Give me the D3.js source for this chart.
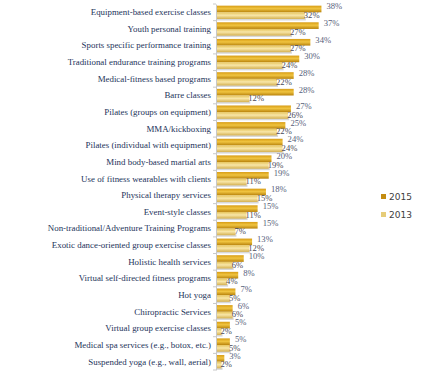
<!DOCTYPE html>
<html><head><meta charset="utf-8">
<script src="https://cdn.jsdelivr.net/npm/d3@7"></script>
<style>body{margin:0;background:#fff}svg{display:block}</style>
</head><body>
<svg id="c" width="422" height="374"></svg>
<script>
const categories = ["Equipment-based exercise classes","Youth personal training","Sports specific performance training","Traditional endurance training programs","Medical-fitness based programs","Barre classes","Pilates (groups on equipment)","MMA/kickboxing","Pilates (individual with equipment)","Mind body-based martial arts","Use of fitness wearables with clients","Physical therapy services","Event-style classes","Non-traditional/Adventure Training Programs","Exotic dance-oriented group exercise classes","Holistic health services","Virtual self-directed fitness programs","Hot yoga","Chiropractic Services","Virtual group exercise classes","Medical spa services (e.g., botox, etc.)","Suspended yoga (e.g., wall, aerial)"];
const values2015 = [38,37,34,30,28,28,27,25,24,20,19,18,15,15,13,10,8,7,6,5,5,3];
const values2013 = [32,27,27,24,22,12,26,22,24,19,11,15,11,7,12,6,4,5,6,2,5,2];
const seriesNames = ["2015","2013"];

const svg = d3.select("#c");
const x = d3.scaleLinear().domain([0,40]).range([216,327]);
const y = d3.scaleBand().domain(categories).range([4,370]).paddingInner(0.2).paddingOuter(0.1);
const bh = y.bandwidth()/2;

const defs = svg.append("defs");
function grad(id, stops){
  const g = defs.append("linearGradient").attr("id",id).attr("x1",0).attr("y1",0).attr("x2",0).attr("y2",1);
  stops.forEach(s=>g.append("stop").attr("offset",s[0]).attr("stop-color",s[1]));
}
grad("g15",[[0,"#d79c14"],[0.45,"#f0c440"],[1,"#b8820c"]]);
grad("g13",[[0,"#e6c45a"],[0.45,"#f8e6a8"],[1,"#d4b050"]]);

const rows = categories.map((c,i)=>({c,v15:values2015[i],v13:values2013[i]}));

// shadows
svg.append("g").selectAll("rect").data(rows).join("rect")
  .attr("x",x(0)+1).attr("y",d=>y(d.c)+bh*2-1)
  .attr("width",d=>x(Math.max(d.v13,1))-x(0)).attr("height",2.5)
  .attr("fill","#d8d8d8");

svg.append("g").selectAll("rect").data(rows).join("rect")
  .attr("x",x(0)).attr("y",d=>y(d.c))
  .attr("width",d=>x(d.v15)-x(0)).attr("height",bh)
  .attr("fill","url(#g15)");
svg.append("g").selectAll("rect").data(rows).join("rect")
  .attr("x",x(0)).attr("y",d=>y(d.c)+bh)
  .attr("width",d=>x(d.v13)-x(0)).attr("height",bh)
  .attr("fill","url(#g13)");

// axis
const ax = svg.append("g").attr("transform",`translate(${x(0)},0)`)
  .call(d3.axisLeft(y).tickSize(0).tickPadding(5).tickFormat(d=>d));
ax.select(".domain").attr("stroke","#c8c8c8");
ax.selectAll("text").attr("font-family","'Liberation Serif','DejaVu Serif',serif")
  .attr("font-size","8.9px").attr("fill","#24345a");
const step = y.step();
svg.append("g").selectAll("line").data(d3.range(categories.length+1)).join("line")
  .attr("x1",x(0)-3).attr("x2",x(0))
  .attr("y1",i=>y(categories[0]) - y.paddingInner()*step/2 + i*step)
  .attr("y2",i=>y(categories[0]) - y.paddingInner()*step/2 + i*step)
  .attr("stroke","#c8c8c8");

// value labels
const lf = "'Liberation Serif','DejaVu Serif',serif";
svg.append("g").selectAll("text").data(rows).join("text")
  .attr("x",d=>x(d.v15)+5).attr("y",d=>y(d.c)+bh*0.55)
  .attr("font-family",lf).attr("font-size","8.6px").attr("fill","#56607a")
  .text(d=>d.v15+"%");
svg.append("g").selectAll("text").data(rows).join("text")
  .attr("x",d=>x(d.v13)-1).attr("y",d=>y(d.c)+bh*1.85)
  .attr("font-family",lf).attr("font-size","8.6px").attr("fill","#4a4a58")
  .text(d=>d.v13+"%");

// legend
const lg = svg.append("g").attr("transform","translate(381,198)");
const lcol = ["#c48c10","#e6cc78"];
seriesNames.forEach((s,i)=>{
  lg.append("rect").attr("x",0).attr("y",i*18-4).attr("width",5).attr("height",5).attr("fill",lcol[i]);
  lg.append("text").attr("x",8).attr("y",i*18+1.5).attr("font-family","'DejaVu Sans',sans-serif")
    .attr("font-size","9px").attr("fill","#404040").text(s);
});
</script>
</body></html>
